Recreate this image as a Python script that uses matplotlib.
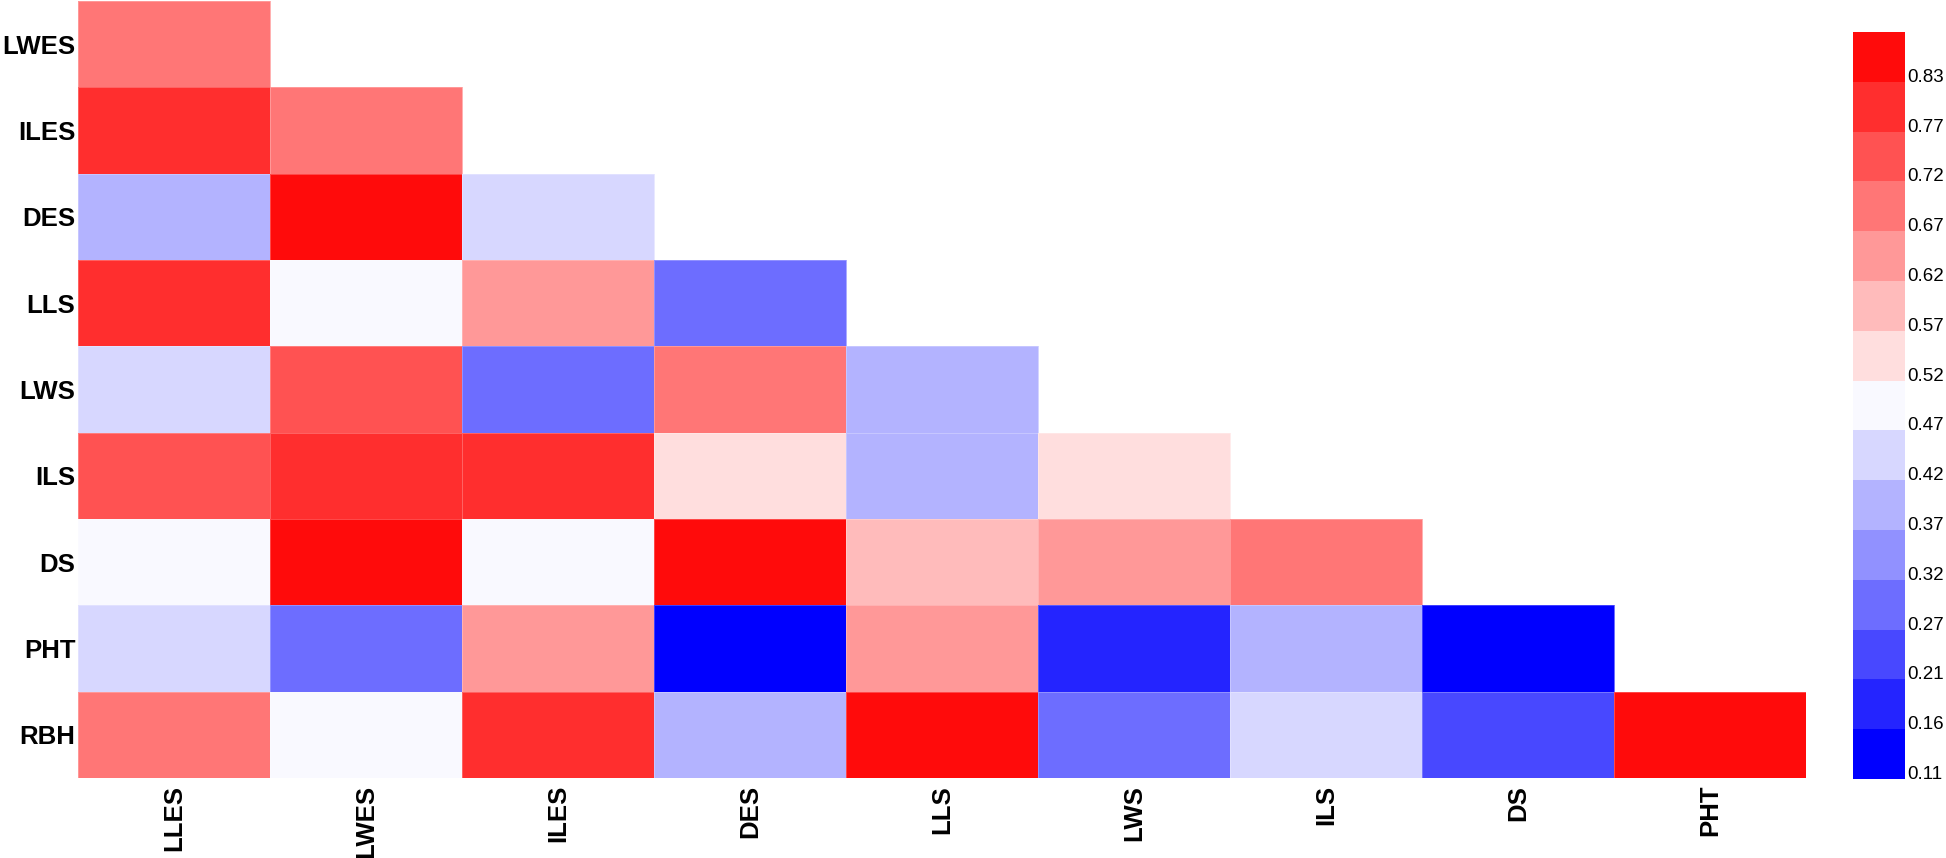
import numpy as np
import matplotlib
matplotlib.use("Agg")
import matplotlib.pyplot as plt
from matplotlib.colors import ListedColormap, BoundaryNorm

plt.rcParams['font.family'] = ['Liberation Sans', 'DejaVu Sans']

row_labels = ["LWES", "ILES", "DES", "LLS", "LWS", "ILS", "DS", "PHT", "RBH"]
col_labels = ["LLES", "LWES", "ILES", "DES", "LLS", "LWS", "ILS", "DS", "PHT"]

# lower-triangular correlation values (row i has i+1 entries)
r_LWES = [0.69]
r_ILES = [0.80, 0.69]
r_DES = [0.39, 0.85, 0.44]
r_LLS = [0.80, 0.49, 0.64, 0.29]
r_LWS = [0.44, 0.74, 0.29, 0.69, 0.39]
r_ILS = [0.74, 0.80, 0.80, 0.54, 0.39, 0.54]
r_DS = [0.49, 0.85, 0.49, 0.85, 0.59, 0.64, 0.69]
r_PHT = [0.44, 0.29, 0.64, 0.13, 0.64, 0.18, 0.39, 0.13]
r_RBH = [0.69, 0.49, 0.80, 0.39, 0.85, 0.29, 0.44, 0.24, 0.85]
rows = [r_LWES, r_ILES, r_DES, r_LLS, r_LWS, r_ILS, r_DS, r_PHT, r_RBH]

tick_values = [0.11, 0.16, 0.21, 0.27, 0.32, 0.37, 0.42, 0.47, 0.52,
               0.57, 0.62, 0.67, 0.72, 0.77, 0.83]
top_bound = 0.88
level_colors = ["#0000FF", "#2424FF", "#4848FF", "#6D6DFF", "#9191FF",
                "#B3B3FF", "#D7D7FF", "#F9F9FF", "#FFDEDE", "#FFBBBB",
                "#FF9898", "#FF7676", "#FF5252", "#FF2E2E", "#FF0B0B"]

n = len(row_labels)
M = np.full((n, n), np.nan)
for i, r in enumerate(rows):
    M[i, :len(r)] = r
Mm = np.ma.masked_invalid(M)

bounds = tick_values + [top_bound]
cmap = ListedColormap(level_colors)
norm = BoundaryNorm(bounds, cmap.N)

fig = plt.figure(figsize=(19.46, 8.58), dpi=100)
ax = fig.add_axes([0.0401, 0.0932, 0.8879, 0.9056])
mesh = ax.pcolormesh(np.arange(n + 1), np.arange(n + 1), Mm, cmap=cmap, norm=norm,
                     edgecolors=(1, 1, 1, 0.25), linewidth=0.6)
ax.set_xlim(0, n)
ax.set_ylim(n, 0)
ax.set_xticks(np.arange(n) + 0.5)
ax.set_xticklabels(col_labels, rotation=90, fontsize=18.5, fontweight='bold')
ax.set_yticks(np.arange(n) + 0.5)
ax.set_yticklabels(row_labels, fontsize=18.5, fontweight='bold')
ax.tick_params(axis='y', length=0, pad=2)
ax.tick_params(axis='x', length=0, pad=5)
for s in ax.spines.values():
    s.set_visible(False)

cax = fig.add_axes([0.9522, 0.0921, 0.0267, 0.8706])
cb = fig.colorbar(mesh, cax=cax, boundaries=bounds, spacing='uniform')
cb.set_ticks(tick_values)
cb.set_ticklabels([f"{v:.2f}" for v in tick_values])
cb.outline.set_visible(False)
cax.minorticks_off()
cax.tick_params(length=0, pad=2, labelsize=13.5)
for t in cax.get_yticklabels():
    t.set_verticalalignment('baseline')

fig.savefig("out.png", dpi=100)
